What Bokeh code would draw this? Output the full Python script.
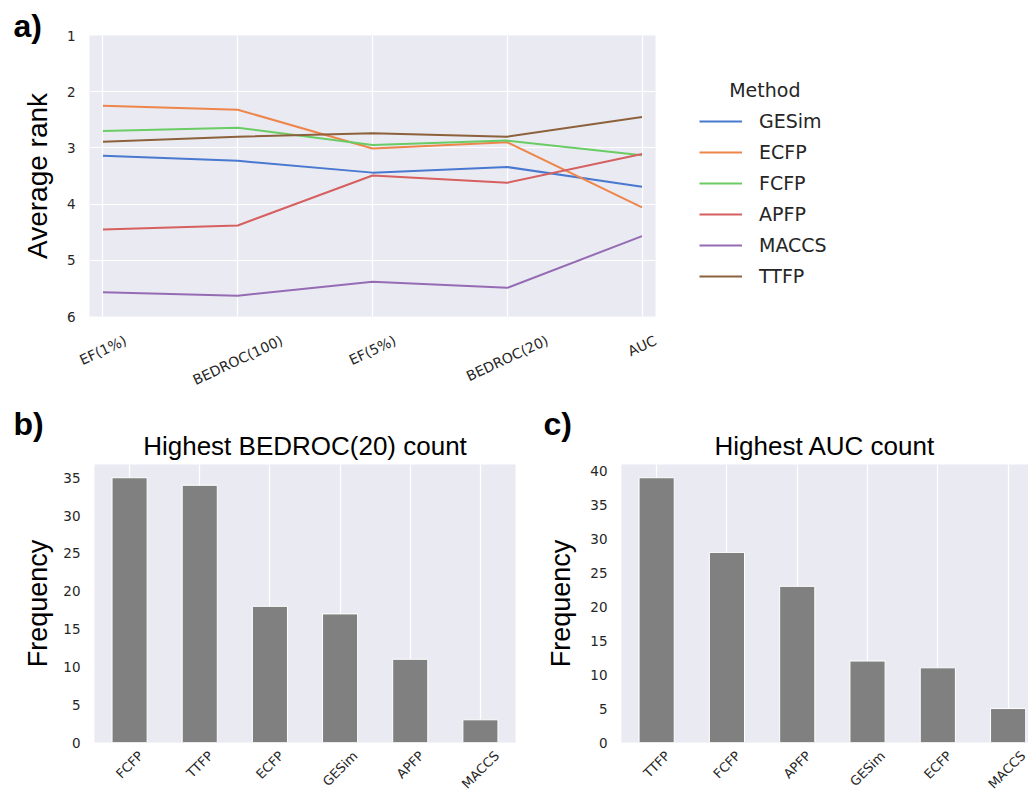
import math
from bokeh.plotting import figure
from bokeh.models import (Range1d, FixedTicker, Legend, LegendItem, LinearAxis, Title)
from bokeh.layouts import column, row
from bokeh.embed import file_html
from bokeh.resources import INLINE

# ---------------- data ----------------
metrics = ["EF(1%)", "BEDROC(100)", "EF(5%)", "BEDROC(20)", "AUC"]
methods = ["GESim", "ECFP", "FCFP", "APFP", "MACCS", "TTFP"]
rank_gesim = [3.14, 3.23, 3.44, 3.34, 3.69]
rank_ecfp = [2.25, 2.32, 3.01, 2.90, 4.06]
rank_fcfp = [2.70, 2.64, 2.95, 2.87, 3.13]
rank_apfp = [4.45, 4.38, 3.49, 3.62, 3.11]
rank_maccs = [5.57, 5.63, 5.38, 5.49, 4.57]
rank_ttfp = [2.89, 2.80, 2.74, 2.80, 2.45]
rank_ticks = [1, 2, 3, 4, 5, 6]

bedroc_methods = ["FCFP", "TTFP", "ECFP", "GESim", "APFP", "MACCS"]
bedroc_counts = [35, 34, 18, 17, 11, 3]
bedroc_ticks = [0, 5, 10, 15, 20, 25, 30, 35]

auc_methods = ["TTFP", "FCFP", "APFP", "GESim", "ECFP", "MACCS"]
auc_counts = [39, 28, 23, 12, 11, 5]
auc_ticks = [0, 5, 10, 15, 20, 25, 30, 35, 40]

# ---------------- styles ----------------
BG = "#eaeaf2"
TXT = "#262626"
palette = ["#4878d0", "#ee854a", "#6acc64", "#d65f5f", "#956cb4", "#8c613c"]
TICK_FONT = "DejaVu Sans"
LABEL_FONT = "Liberation Sans"

# approximate DejaVu Sans advance widths (em), used to centre rotated tick labels
W = {'A': .684, 'B': .686, 'C': .698, 'D': .770, 'E': .632, 'F': .575, 'G': .775,
     'M': .863, 'O': .787, 'P': .603, 'R': .695, 'S': .635, 'T': .611, 'U': .732,
     'i': .278, 'm': .974, '(': .390, ')': .390, '%': .950}


def text_w(s, fs):
    return fs * sum(W.get(c, .636 if c.isdigit() else .6) for c in s)


def label_axis(p, labels, fs, ang, px_per_unit, standoff):
    """Category labels on an axis, rotated and centred on their positions."""
    a = math.radians(ang)
    ticks, overrides = [], {}
    for i, s in enumerate(labels):
        dx = 0.5 * text_w(s, fs) * math.cos(a) / px_per_unit
        t = round(i + dx, 6)
        ticks.append(t)
        overrides[t] = s
    ax = LinearAxis(ticker=FixedTicker(ticks=ticks), major_label_overrides=overrides,
                    major_label_orientation=a, major_label_standoff=standoff,
                    major_label_text_font=TICK_FONT, major_label_text_font_size="%dpx" % fs,
                    major_label_text_color=TXT, axis_line_color=None,
                    major_tick_line_color=None, minor_tick_line_color=None,
                    major_tick_out=0, major_tick_in=0)
    p.add_layout(ax, "below")


def style_common(p, label, standoff, label_size):
    p.xaxis.visible = False
    p.yaxis.axis_line_color = None
    p.yaxis.major_tick_line_color = None
    p.yaxis.minor_tick_line_color = None
    p.yaxis.major_tick_out = 0
    p.yaxis.major_tick_in = 0
    p.yaxis.major_label_standoff = 14
    p.yaxis.major_label_text_font = TICK_FONT
    p.yaxis.major_label_text_font_size = "13.5px"
    p.yaxis.major_label_text_color = TXT
    p.yaxis.axis_label = label
    p.yaxis.axis_label_text_font = LABEL_FONT
    p.yaxis.axis_label_text_font_size = label_size
    p.yaxis.axis_label_text_font_style = "normal"
    p.yaxis.axis_label_text_color = "black"
    p.yaxis.axis_label_standoff = standoff
    p.xgrid.grid_line_color = "white"
    p.xgrid.grid_line_width = 1.2
    p.ygrid.grid_line_color = "white"
    p.ygrid.grid_line_width = 1.2


def tag_title(text, offset, standoff):
    return Title(text=text, align="left", offset=offset, standoff=standoff,
                 text_font=LABEL_FONT, text_font_size="32px", text_font_style="bold",
                 text_color="black")


# ---------------- panel a ----------------
pa = figure(frame_width=566, frame_height=281, min_border_left=89, min_border_top=35,
            min_border_bottom=76, min_border_right=373,
            x_range=Range1d(-0.1, 4.1), y_range=Range1d(6, 1),
            output_backend="svg", toolbar_location=None,
            background_fill_color=BG, border_fill_color="white", outline_line_color=None)
style_common(pa, "Average rank", 11, "28px")
xs = list(range(len(metrics)))
pa.xaxis.ticker = FixedTicker(ticks=xs)
pa.xgrid.ticker = FixedTicker(ticks=xs)
pa.yaxis.ticker = FixedTicker(ticks=rank_ticks)
pa.ygrid.ticker = FixedTicker(ticks=rank_ticks)

series = [rank_gesim, rank_ecfp, rank_fcfp, rank_apfp, rank_maccs, rank_ttfp]
items = []
for name, vals, col in zip(methods, series, palette):
    r = pa.line(x=xs, y=vals, line_color=col, line_width=2)
    items.append(LegendItem(label=name, renderers=[r]))

# legend title is centred over the entries in the reference: pad with no-break spaces
leg = Legend(items=items, title="\u00a0" * 5 + "Method", location="top_left", margin=44,
             padding=10, spacing=3, glyph_width=43, glyph_height=28, label_height=28,
             label_standoff=17, label_text_font=TICK_FONT, label_text_font_size="19px",
             label_text_color=TXT, title_text_font=TICK_FONT, title_text_font_size="19px",
             title_text_font_style="normal", title_text_color=TXT, title_standoff=6,
             border_line_color=None, background_fill_alpha=0)
pa.add_layout(leg, "right")
label_axis(pa, metrics, 14, 25, 566 / 4.2, 23)
pa.title = tag_title("a)", -76, -16)


# ---------------- bar panels ----------------
def bar_panel(cats, counts, ticks, title, title_off, ymax, xmax, fw, bl, br,
              standoff, tag, tagx):
    p = figure(frame_width=fw, frame_height=278, min_border_left=bl, min_border_top=66,
               min_border_bottom=53, min_border_right=br,
               x_range=Range1d(-0.5, xmax), y_range=Range1d(0, ymax),
               output_backend="svg", toolbar_location=None,
               background_fill_color=BG, border_fill_color="white", outline_line_color=None)
    style_common(p, "Frequency", standoff, "27px")
    bx = list(range(len(cats)))
    p.xaxis.ticker = FixedTicker(ticks=bx)
    p.xgrid.ticker = FixedTicker(ticks=bx)
    p.yaxis.ticker = FixedTicker(ticks=ticks)
    p.ygrid.visible = False
    p.vbar(x=bx, top=counts, bottom=0, width=0.5, fill_color="#808080",
           line_color="white", line_width=1)
    # main title next to the frame, panel tag as the outer title
    p.add_layout(Title(text=title, align="center", offset=title_off, standoff=7,
                       text_font=LABEL_FONT, text_font_size="26px",
                       text_font_style="normal", text_color="black"), "above")
    p.title = tag_title(tag, tagx, -32)
    label_axis(p, cats, 13, 45, fw / (xmax + 0.5), 11)
    return p


pb = bar_panel(bedroc_methods, bedroc_counts, bedroc_ticks, "Highest BEDROC(20) count", -17,
               36.75, 5.5, 421, 94, 20, 7, "b)", -81)
pc = bar_panel(auc_methods, auc_counts, auc_ticks, "Highest AUC count", -5,
               40.95, 5.29, 407, 86, 0, 11, "c)", -78)

layout = column(pa, row(pb, pc))
open("out.html", "w").write(file_html(layout, INLINE))
